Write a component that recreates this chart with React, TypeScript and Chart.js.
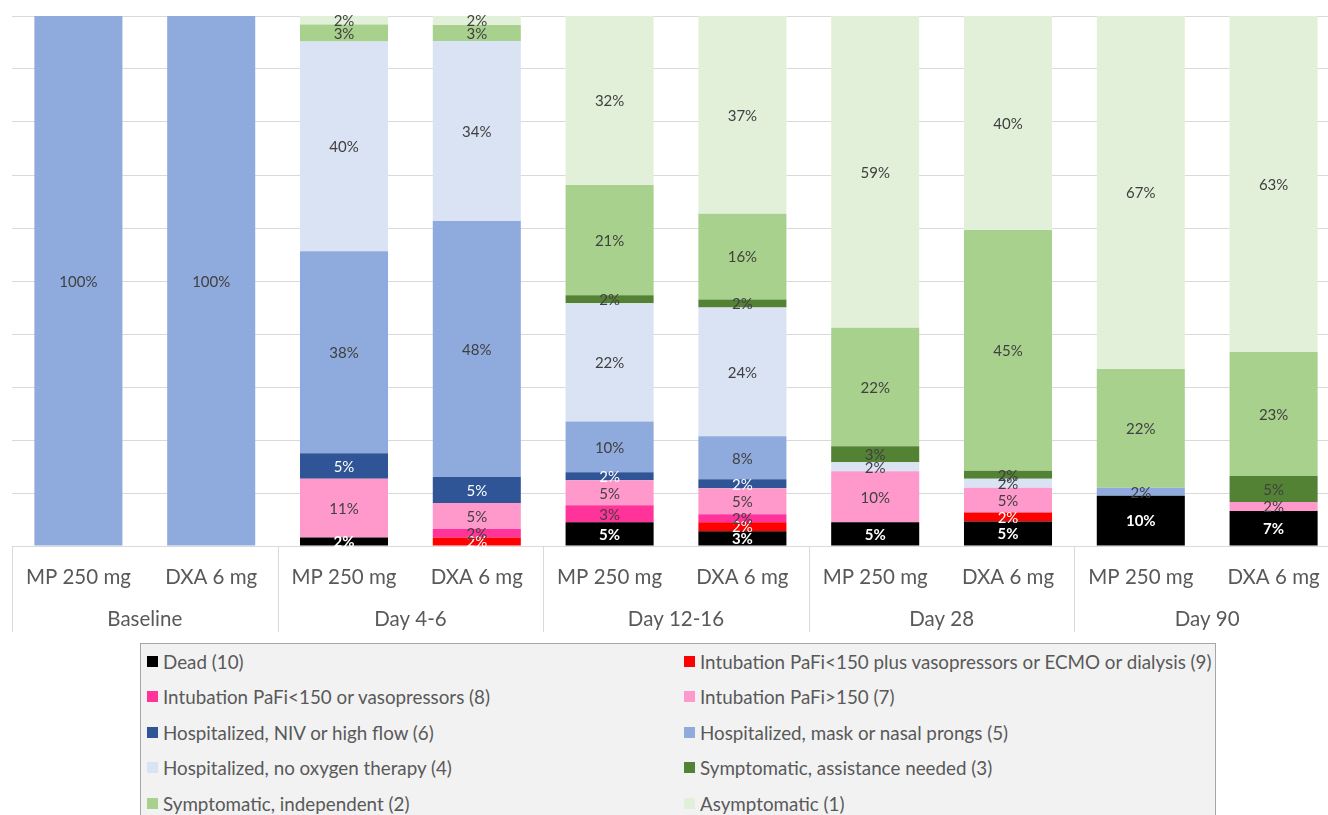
import React, { useEffect, useRef } from "react";
import { Chart, registerables } from "chart.js";

Chart.register(...registerables);

const groups = ["Baseline", "Day 4-6", "Day 12-16", "Day 28", "Day 90"];
const treatments = ["MP 250 mg", "DXA 6 mg"];
const categories = groups.flatMap(() => treatments);

const seriesNames = [
  "Dead (10)",
  "Intubation PaFi<150 plus vasopressors or ECMO or dialysis (9)",
  "Intubation PaFi<150 or vasopressors (8)",
  "Intubation PaFi>150 (7)",
  "Hospitalized, NIV or high flow (6)",
  "Hospitalized, mask or nasal prongs (5)",
  "Hospitalized, no oxygen therapy (4)",
  "Symptomatic, assistance needed (3)",
  "Symptomatic, independent (2)",
  "Asymptomatic (1)",
];

// columns: Baseline MP, Baseline DXA, D4-6 MP, D4-6 DXA, D12-16 MP, D12-16 DXA, D28 MP, D28 DXA, D90 MP, D90 DXA
const dead = [0, 0, 1.6, 0, 4.5, 2.8, 4.5, 4.6, 9.5, 6.6];
const intub9 = [0, 0, 0, 1.6, 0, 1.7, 0, 1.7, 0, 0];
const intub8 = [0, 0, 0, 1.6, 3.2, 1.5, 0, 0, 0, 0];
const intub7 = [0, 0, 11.1, 4.9, 4.7, 4.9, 9.6, 4.7, 0, 1.7];
const niv6 = [0, 0, 4.8, 4.9, 1.5, 1.7, 0, 0, 0, 0];
const mask5 = [100, 100, 38.1, 48.3, 9.6, 8.1, 0, 0, 1.5, 0];
const noOxygen4 = [0, 0, 39.6, 34.0, 22.3, 24.3, 1.7, 1.7, 0, 0];
const assist3 = [0, 0, 0, 0, 1.5, 1.5, 3.0, 1.5, 0, 4.9];
const independent2 = [0, 0, 3.2, 3.0, 20.8, 16.2, 22.4, 45.4, 22.4, 23.4];
const asymptomatic1 = [0, 0, 1.6, 1.7, 31.9, 37.3, 58.8, 40.4, 66.6, 63.4];

const seriesValues = [dead, intub9, intub8, intub7, niv6, mask5, noOxygen4, assist3, independent2, asymptomatic1];
const seriesColors = [
  "#000000", "#FF0000", "#FF3399", "#FF99CC", "#2F5597",
  "#8FAADC", "#DAE3F3", "#548235", "#A9D18E", "#E2F0D9",
];
const labelColors = [
  "#FFFFFF", "#FFFFFF", "#404040", "#404040", "#FFFFFF",
  "#404040", "#404040", "#404040", "#404040", "#404040",
];
const labelBold = [true, false, false, false, false, false, false, false, false, false];

const FONT = "Lato, 'Open Sans', sans-serif";
const AXIS_GRAY = "#595959";

const segmentLabels = {
  id: "segmentLabels",
  afterDatasetsDraw(chart: any) {
    const ctx = chart.ctx;
    chart.data.datasets.forEach((ds: any, di: number) => {
      const meta = chart.getDatasetMeta(di);
      meta.data.forEach((bar: any, i: number) => {
        const v = ds.data[i];
        if (!v) return;
        const { x, y, base } = bar.getProps(["x", "y", "base"], true);
        ctx.save();
        ctx.fillStyle = labelColors[di];
        ctx.font = `${labelBold[di] ? "bold " : ""}15px ${FONT}`;
        ctx.textAlign = "center";
        ctx.textBaseline = "middle";
        ctx.fillText(Math.round(v) + "%", x, (y + base) / 2 + 1);
        ctx.restore();
      });
    });
  },
};

const groupAxis = {
  id: "groupAxis",
  afterDraw(chart: any) {
    const ctx = chart.ctx;
    const xs = chart.scales.x;
    const area = chart.chartArea;
    const yTop = area.bottom;
    const yBottom = area.bottom + 86;
    ctx.save();
    ctx.strokeStyle = "#D9D9D9";
    ctx.lineWidth = 1;
    const bounds: number[] = [];
    for (let g = 0; g <= groups.length; g++) {
      let px: number;
      if (g === 0) px = xs.left;
      else if (g === groups.length) px = xs.right;
      else px = (xs.getPixelForValue(g * 2 - 1) + xs.getPixelForValue(g * 2)) / 2;
      bounds.push(px);
      ctx.beginPath();
      ctx.moveTo(Math.round(px) + 0.5, yTop);
      ctx.lineTo(Math.round(px) + 0.5, yBottom);
      ctx.stroke();
    }
    ctx.fillStyle = AXIS_GRAY;
    ctx.font = `20.5px ${FONT}`;
    ctx.textAlign = "center";
    ctx.textBaseline = "middle";
    groups.forEach((g, i) => {
      ctx.fillText(g, (bounds[i] + bounds[i + 1]) / 2, area.bottom + 73);
    });
    ctx.restore();
  },
};

export default function App() {
  const canvasRef = useRef<HTMLCanvasElement | null>(null);

  useEffect(() => {
    if (!canvasRef.current) return;
    const chart = new Chart(canvasRef.current, {
      type: "bar",
      data: {
        labels: categories,
        datasets: seriesNames.map((name, i) => ({
          label: name,
          data: seriesValues[i],
          backgroundColor: seriesColors[i],
          borderWidth: 0,
          categoryPercentage: 1,
          barPercentage: 0.663,
        })),
      },
      options: {
        responsive: false,
        animation: false,
        devicePixelRatio: 1,
        layout: { padding: { left: 12, top: 16, right: 5, bottom: 8 } },
        plugins: {
          legend: { display: false },
          tooltip: { enabled: false },
        },
        scales: {
          x: {
            stacked: true,
            grid: { display: false, drawTicks: false },
            border: { display: true, color: "#D9D9D9" },
            ticks: {
              color: AXIS_GRAY,
              font: { family: FONT, size: 20.5 },
              padding: 19,
              maxRotation: 0,
              autoSkip: false,
            },
            afterFit: (scale: any) => {
              scale.height = 86;
            },
          },
          y: {
            stacked: true,
            min: 0,
            max: 100,
            grid: { color: "#D9D9D9", drawTicks: false },
            border: { display: false },
            ticks: { display: false, stepSize: 10 },
          },
        },
      },
      plugins: [segmentLabels, groupAxis],
    });
    return () => chart.destroy();
  }, []);

  return (
    <div
      style={{
        position: "fixed",
        left: 0,
        top: 0,
        width: 1328,
        height: 815,
        overflow: "hidden",
        background: "#FFFFFF",
      }}
    >
      <canvas
        ref={canvasRef}
        width={1345}
        height={640}
        style={{ position: "absolute", left: 0, top: 0, width: 1345, height: 640 }}
      />
      <div
        style={{
          position: "absolute",
          left: 140,
          top: 643,
          width: 1074,
          height: 200,
          background: "#F2F2F2",
          border: "1px solid #A6A6A6",
          fontFamily: FONT,
        }}
      >
        {seriesNames.map((name, i) => {
          const row = Math.floor(i / 2);
          const col = i % 2;
          return (
            <div
              key={name}
              style={{
                position: "absolute",
                left: 6 + col * 537,
                top: 17 + row * 35.5 - 11,
                height: 22,
                display: "flex",
                alignItems: "center",
                whiteSpace: "nowrap",
                color: AXIS_GRAY,
                fontSize: 18.8,
              }}
            >
              <span
                style={{
                  display: "inline-block",
                  width: 11,
                  height: 11,
                  background: seriesColors[i],
                  marginRight: 5,
                }}
              />
              <span>{name}</span>
            </div>
          );
        })}
      </div>
    </div>
  );
}
